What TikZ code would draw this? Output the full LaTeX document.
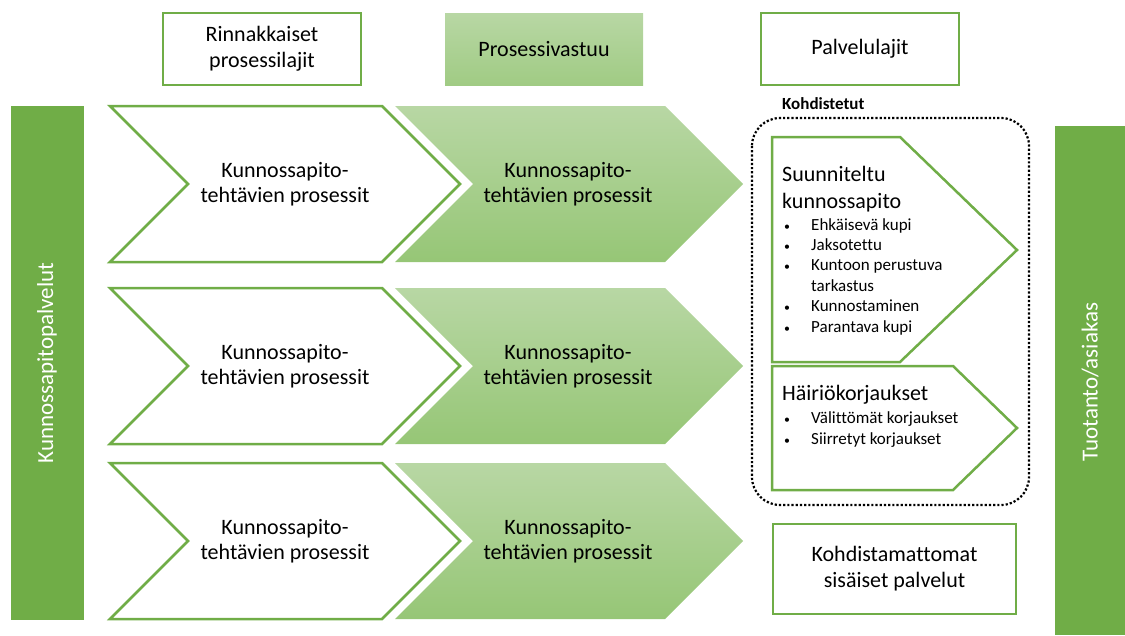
\documentclass[tikz,border=0pt]{standalone}
\usepackage{fontspec}
\setmainfont{Carlito}[Ligatures=CommonOff]
\definecolor{kupigreen}{RGB}{112,173,71}
\definecolor{paletop}{RGB}{184,215,164}
\definecolor{palebottom}{RGB}{150,198,118}
\tikzset{
  headbox/.style={draw=kupigreen, line width=2.5pt, fill=white, minimum width=198pt, minimum height=72pt, align=center, font=\fontsize{22}{26}\selectfont},
  headfill/.style={headbox, draw=none, top color=paletop, bottom color=palebottom!70!paletop},
  sidebar/.style={fill=kupigreen, draw=none},
  sidetext/.style={text=white, rotate=90, font=\fontsize{23}{26}\selectfont},
  chevwhite/.style={draw=kupigreen, line width=2.5pt, fill=white, line join=miter},
  chevgreen/.style={top color=paletop, bottom color=palebottom, draw=none},
  proctext/.style={align=center, font=\fontsize{22}{25}\selectfont},
  servshape/.style={draw=kupigreen, line width=2.5pt, fill=white},
  servtitle/.style={anchor=west, align=left, inner sep=0pt, font=\fontsize{22}{27}\selectfont},
  servlist/.style={anchor=west, inner sep=0pt, font=\fontsize{17}{20.4}\selectfont}
}
\newcommand{\servitems}[1]{\begin{tabular}{@{}p{27pt}@{}l@{}}#1\end{tabular}}
\newcommand{\dotbullet}{\scalebox{0.7}{•}}

\begin{document}
\begin{tikzpicture}[x=1pt, y=-1pt]
  \useasboundingbox (0,0) rectangle (1125,635);

  % column headings
  \node[headbox] (rinnakkaiset) at (262,49) {Rinnakkaiset\\prosessilajit};
  \node[headfill] (vastuu) at (544,49) {Prosessivastuu};
  \node[headbox] (lajit) at (860,49) {Palvelulajit};

  % side bars
  \fill[sidebar] (11,106) rectangle (84,620);
  \node[sidetext] (kpalvelut) at (47,363) {Kunnossapitopalvelut};
  \fill[sidebar] (1055,126) rectangle (1125,635);
  \node[sidetext] (asiakas) at (1090,382) {Tuotanto/asiakas};

  % process rows
  \foreach \yc [count=\r] in {184,366,541}{
    \draw[chevwhite] (110,\yc-78) -- (382,\yc-78) -- (460,\yc) -- (382,\yc+78)
      -- (110,\yc+78) -- (188,\yc) -- cycle;
    \shade[chevgreen] (395,\yc-78) -- (665,\yc-78) -- (743,\yc) -- (665,\yc+78)
      -- (395,\yc+78) -- (473,\yc) -- cycle;
    \node[proctext] (wproc\r) at (285,\yc) {Kunnossapito-\\tehtävien prosessit};
    \node[proctext] (gproc\r) at (568,\yc) {Kunnossapito-\\tehtävien prosessit};
  }

  % targeted services
  \draw[line width=2.2pt, dotted, rounded corners=28pt] (752,118) rectangle (1029,505);
  \node[anchor=west, inner sep=0pt, font=\bfseries\fontsize{17}{20}\selectfont] (kohdistetut) at (782,104) {Kohdistetut};

  \draw[servshape] (772,137) -- (900,137) -- (1017,250) -- (900,362) -- (772,362) -- cycle;
  \node[servtitle] (suunniteltu) at (782,189) {Suunniteltu\\kunnossapito};
  \node[servlist] (suunlista) at (784,277) {\servitems{%
    \dotbullet & Ehkäisevä kupi\\
    \dotbullet & Jaksotettu\\
    \dotbullet & Kuntoon perustuva\\
      & tarkastus\\
    \dotbullet & Kunnostaminen\\
    \dotbullet & Parantava kupi}};

  \draw[servshape] (772,366) -- (953,366) -- (1017,428) -- (953,490) -- (772,490) -- cycle;
  \node[servtitle] (hairio) at (782,395) {Häiriökorjaukset};
  \node[servlist] (hairlista) at (784,430) {\servitems{%
    \dotbullet & Välittömät korjaukset\\
    \dotbullet & Siirretyt korjaukset}};

  % untargeted services
  \node[headbox, minimum width=243pt, minimum height=90pt] (kohdistamattomat) at (894.5,569) {Kohdistamattomat\\sisäiset palvelut};
\end{tikzpicture}
\end{document}
